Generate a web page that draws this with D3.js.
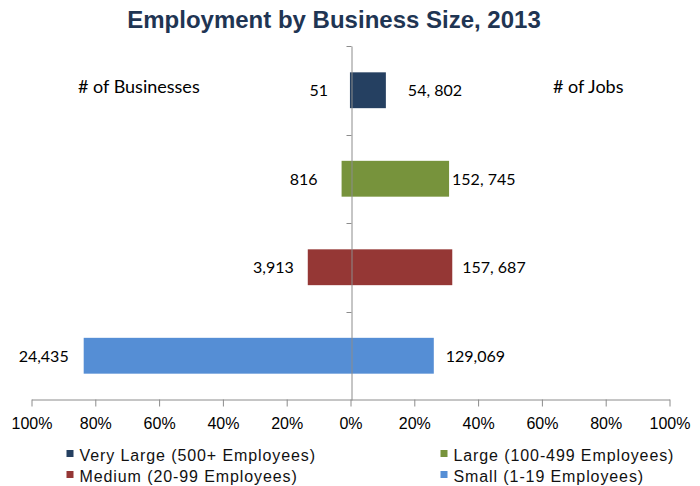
<!DOCTYPE html>
<html><head><meta charset="utf-8">
<script src="https://cdn.jsdelivr.net/npm/d3@7"></script>
<style>
body{margin:0;background:#fff;}
svg{display:block;}
</style></head>
<body>
<svg id="chart" width="700" height="486"></svg>
<script>
const categories = ["Very Large (500+ Employees)", "Large (100-499 Employees)", "Medium (20-99 Employees)", "Small (1-19 Employees)"];
const businesses = [51, 816, 3913, 24435];
const jobs = [54802, 152745, 157687, 129069];
const businessLabels = ["51", "816", "3,913", "24,435"];
const jobLabels = ["54, 802", "152, 745", "157, 687", "129,069"];
const colors = ["#254061", "#77933C", "#953735", "#558ED5"];
const tickValues = [-1, -0.8, -0.6, -0.4, -0.2, 0, 0.2, 0.4, 0.6, 0.8, 1];

// layout tweaks (label gaps from bar ends, px)
const leftGap = [22, 24, 14, 15];
const rightGap = [22, 3, 10, 12];

const svg = d3.select("#chart");
const totalB = d3.sum(businesses), totalJ = d3.sum(jobs);
const bShare = businesses.map(v => v / totalB);
const jShare = jobs.map(v => v / totalJ);

const x = d3.scaleLinear().domain([-1, 1]).range([31.5, 669.5]);
const y = d3.scaleBand().domain(categories).range([46, 400]).paddingInner(0.595).paddingOuter(0.2975);
const axisColor = "#8c8c8c";

// title
svg.append("text").attr("x", 334).attr("y", 28).attr("text-anchor", "middle")
  .attr("font-family", "Liberation Sans, Arial, sans-serif").attr("font-weight", "bold")
  .attr("font-size", 24).attr("fill", "#1F3553").text("Employment by Business Size, 2013");

// bars
const g = svg.append("g");
categories.forEach((c, i) => {
  g.append("rect").attr("x", x(-bShare[i])).attr("y", y(c))
    .attr("width", x(jShare[i]) - x(-bShare[i])).attr("height", y.bandwidth())
    .attr("fill", colors[i]);
});

// x axis
const xAxis = d3.axisBottom(x).tickValues(tickValues).tickSize(7).tickSizeOuter(0)
  .tickFormat(d => Math.round(Math.abs(d) * 100) + "%");
const xg = svg.append("g").attr("transform", "translate(0,399.5)").call(xAxis);
xg.select(".domain").attr("stroke", axisColor);
xg.selectAll(".tick line").attr("stroke", axisColor);
xg.selectAll(".tick text").attr("font-family", "Liberation Sans, Arial, sans-serif")
  .attr("font-size", 16).attr("fill", "#000").attr("dy", null).attr("y", 29);

// y axis at zero
const yAxis = d3.axisLeft(y).tickSize(0).tickFormat("");
const yg = svg.append("g").attr("transform", `translate(${Math.round(x(0)) + 0.5},0)`).call(yAxis);
yg.select(".domain").attr("stroke", axisColor);
yg.selectAll(".tick").remove();
const boundaries = categories.map(c => y(c) - y.step() * y.paddingInner() / 2);
boundaries[0] = y.range()[0];
yg.selectAll("line.sep").data(boundaries).enter().append("line").attr("class", "sep")
  .attr("x1", -5).attr("x2", 0).attr("y1", d => Math.round(d) + 0.5).attr("y2", d => Math.round(d) + 0.5)
  .attr("stroke", axisColor);

// data labels
const lblFont = "Lato, Carlito, Calibri, sans-serif";
categories.forEach((c, i) => {
  const cy = y(c) + y.bandwidth() / 2 + 6;
  svg.append("text").attr("x", x(-bShare[i]) - leftGap[i]).attr("y", cy).attr("text-anchor", "end")
    .attr("font-family", lblFont).attr("font-size", 16).attr("fill", "#000").text(businessLabels[i]);
  svg.append("text").attr("x", x(jShare[i]) + rightGap[i]).attr("y", cy).attr("text-anchor", "start")
    .attr("font-family", lblFont).attr("font-size", 16).attr("fill", "#000").text(jobLabels[i]);
});

// side headers
svg.append("text").attr("x", 78).attr("y", 93).attr("font-family", lblFont).attr("font-size", 18).text("# of Businesses");
svg.append("text").attr("x", 553).attr("y", 93).attr("font-family", lblFont).attr("font-size", 18).text("# of Jobs");

// legend
const legPos = [[66.5, 461], [440.5, 461], [66.5, 482], [440.5, 482]];
categories.forEach((c, i) => {
  const [lx, ly] = legPos[i];
  svg.append("rect").attr("x", lx).attr("y", ly - 11).attr("width", 7).attr("height", 7).attr("fill", colors[i]);
  svg.append("text").attr("x", lx + 13).attr("y", ly).attr("font-family", "Liberation Sans, Arial, sans-serif")
    .attr("font-size", 16).attr("fill", "#111").style("letter-spacing", "0.9px").text(c);
});
</script>
</body></html>
